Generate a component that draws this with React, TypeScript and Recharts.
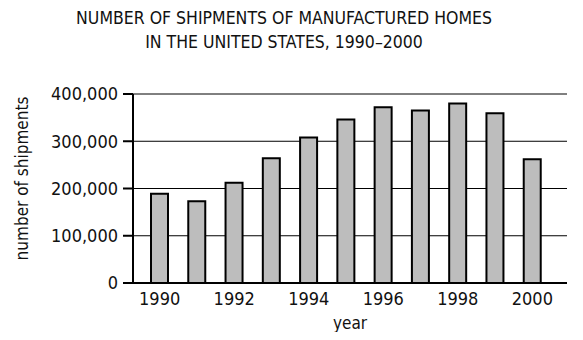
import { BarChart, Bar, XAxis, YAxis, CartesianGrid } from 'recharts'

const years = ['1990', '1991', '1992', '1993', '1994', '1995', '1996', '1997', '1998', '1999', '2000']
const shipments = [189000, 173000, 212000, 264000, 308000, 346000, 372000, 365000, 380000, 359000, 262000]
const yTicks = [0, 100000, 200000, 300000, 400000]

const data = years.map((year, i) => ({ year, shipments: shipments[i] }))

const FONT = '"DejaVu Sans Condensed", "DejaVu Sans", sans-serif'

const fmt = (v: number) => v.toLocaleString('en-US')

const YLabel = ({ viewBox }: any) => {
    const x = viewBox.x + 22
    const y = viewBox.y + viewBox.height / 2 - 10
    return (
        <text x={x} y={y} transform={`rotate(-90, ${x}, ${y})`} textAnchor="middle" dominantBaseline="central"
            fontFamily={FONT} fontSize={17} fill="#111">
            number of shipments
        </text>
    )
}

export default function App() {
    return (
        <div style={{ position: 'relative', width: 583, height: 340, margin: -8, background: '#fff', fontFamily: FONT }}>
            <div style={{ position: 'absolute', left: 0, top: 6, width: 568, textAlign: 'center', fontSize: 17.5, lineHeight: '24px', color: '#111' }}>
                NUMBER OF SHIPMENTS OF MANUFACTURED HOMES<br />IN THE UNITED STATES, 1990–2000
            </div>
            <BarChart
                width={583}
                height={340}
                data={data}
                margin={{ top: 94, right: 16, bottom: 0, left: 0 }}
                barSize={17}
            >
                <CartesianGrid vertical={false} stroke="#000" strokeWidth={1} />
                <XAxis
                    dataKey="year"
                    interval={1}
                    tickLine={false}
                    axisLine={{ stroke: '#000', strokeWidth: 2 }}
                    tick={{ fill: '#111', fontSize: 18, fontFamily: FONT }}
                    tickMargin={3}
                    height={57}
                    padding={{ left: 8, right: 16 }}
                    label={{ value: 'year', position: 'insideBottom', offset: 11, fill: '#111', fontSize: 17, fontFamily: FONT }}
                />
                <YAxis
                    width={133}
                    domain={[0, 400000]}
                    ticks={yTicks}
                    tickFormatter={fmt}
                    tickSize={10}
                    tickMargin={5}
                    tickLine={{ stroke: '#000', strokeWidth: 2 }}
                    axisLine={{ stroke: '#000', strokeWidth: 2 }}
                    tick={{ fill: '#111', fontSize: 18, fontFamily: FONT }}
                    label={<YLabel />}
                />
                <Bar dataKey="shipments" fill="#bdbdbd" stroke="#000" strokeWidth={2} isAnimationActive={false} />
            </BarChart>
        </div>
    )
}
